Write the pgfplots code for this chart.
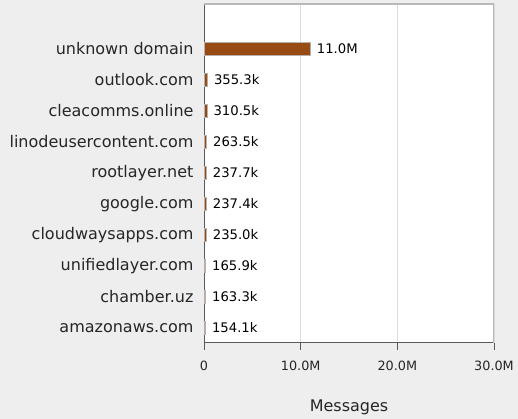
\documentclass[border=0pt]{standalone}
\usepackage{pgfplots}
\pgfplotsset{compat=1.18}
\usepackage{fontspec}
\setmainfont{DejaVu Sans}
\definecolor{bg}{RGB}{238,238,238}
\definecolor{barc}{RGB}{151,74,20}
\definecolor{barline}{RGB}{185,175,170}
\definecolor{gridc}{RGB}{220,220,220}
\definecolor{axc}{RGB}{90,90,90}
\definecolor{framec}{RGB}{185,185,185}
\begin{document}
\begin{tikzpicture}[x=1pt,y=1pt]
\fill[bg] (0,0) rectangle (518,419);
\useasboundingbox (0,0) rectangle (518,419);
\begin{axis}[
  at={(204pt,76.3pt)}, anchor=south west,
  scale only axis, width=290pt, height=338.7pt,
  xmin=0, xmax=30000000, ymin=-0.474, ymax=10.45,
  xbar, bar width=13pt,
  axis background/.style={fill=white},
  axis x line*=bottom, axis y line*=left,
  axis line style={axc, line width=0.8pt},
  ytick={0,...,9},
  yticklabels={amazonaws.com,chamber.uz,unifiedlayer.com,cloudwaysapps.com,google.com,rootlayer.net,linodeusercontent.com,cleacomms.online,outlook.com,unknown domain},
  ytick style={draw=none},
  yticklabel style={font=\fontsize{16.0}{19}\selectfont, text=black!85, xshift=0pt},
  xtick={0,10000000,20000000,30000000},
  xticklabels={0,10.0M,20.0M,30.0M},
  scaled x ticks=false,
  tick align=outside, major tick length=7pt,
  xtick style={axc, line width=0.8pt},
  xticklabel style={font=\fontsize{12.8}{15}\selectfont, text=black!85, yshift=-8pt},
  xmajorgrids, grid style={gridc, line width=0.8pt},
  xlabel={Messages},
  xlabel style={font=\fontsize{16.0}{19}\selectfont, text=black!85, yshift=-22pt},
  point meta=explicit symbolic,
  nodes near coords,
  nodes near coords style={anchor=west, font=\fontsize{13.2}{15}\selectfont, text=black, xshift=3pt},
]
\addplot[fill=barc, draw=barline, line width=0.5pt] coordinates {
  (154100,0) [154.1k]
  (163300,1) [163.3k]
  (165900,2) [165.9k]
  (235000,3) [235.0k]
  (237400,4) [237.4k]
  (237700,5) [237.7k]
  (263500,6) [263.5k]
  (310500,7) [310.5k]
  (355300,8) [355.3k]
  (11000000,9) [11.0M]
};
\draw[framec, line width=1.2pt] (rel axis cs:0,1) -- (rel axis cs:1,1) -- (rel axis cs:1,0);
\end{axis}
\end{tikzpicture}
\end{document}
